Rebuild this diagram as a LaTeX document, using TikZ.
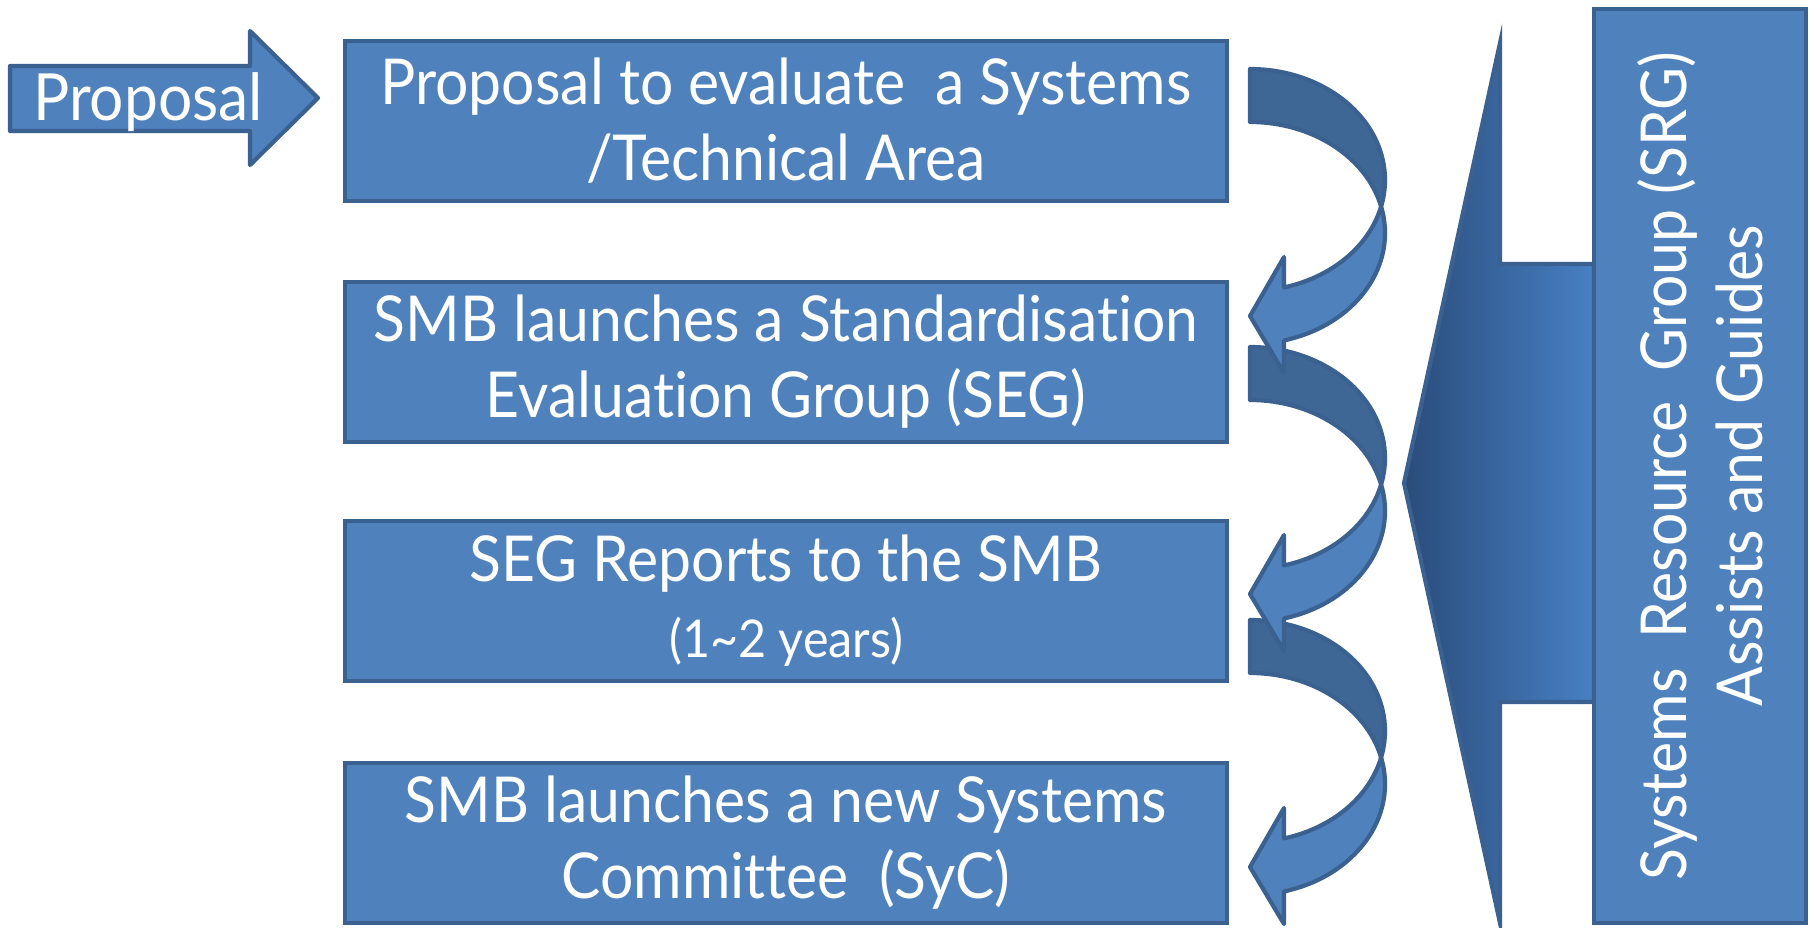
\documentclass[tikz,border=0pt]{standalone}
\usepackage{fontspec}
\setmainfont[FakeStretch=0.93, Ligatures=NoCommon]{Lato}
\definecolor{boxblue}{HTML}{4F81BD}
\definecolor{edgeblue}{HTML}{3A6190}
\definecolor{backblue}{HTML}{3E6796}
\definecolor{darkcall}{HTML}{2A4C7A}
\definecolor{lightcall}{HTML}{4780C4}

\begin{document}
\begin{tikzpicture}[x=0.01cm, y=-0.01cm,
	stepbox/.style={rectangle, draw=edgeblue, fill=boxblue, line width=1.2pt, minimum width=8.81cm, minimum height=1.6cm, inner sep=0pt, text=white, align=center, font=\fontsize{18}{21.6}\selectfont},
	curvefront/.style={draw=edgeblue, fill=boxblue, line width=1.2pt, line join=round},
	curveback/.style={draw=edgeblue, fill=backblue, line width=1.2pt, line join=round}]
	\useasboundingbox (0,0) rectangle (1810,927);

	\draw[curvefront] (10,66) -- (250,66) -- (250,31) -- (318,98) -- (250,165) -- (250,131) -- (10,131) -- cycle;
	\draw (148,120) node (prop) [anchor=base, text=white, font=\fontsize{18.5}{21.6}\selectfont] {Proposal};

	\draw (786,121) node (area) [stepbox] {Proposal to evaluate~ a Systems\\/Technical Area};
	\draw (786,362) node (seg) [stepbox] {SMB launches a Standardisation\\Evaluation Group (SEG)};
	\draw (786,601) node (report) [stepbox] {SEG Reports to the SMB\\{\fontsize{14.8}{16.5}\selectfont (1\textasciitilde2 years)}};
	\draw (786,843) node (syc) [stepbox] {SMB launches a new Systems\\Committee~ (SyC)};

	\draw[edgeblue, line width=1.2pt, left color=darkcall, right color=lightcall] (1500,43) -- (1500,264) -- (1594,264) -- (1594,702) -- (1500,702) -- (1500,923) -- (1404,483) -- cycle;
	\draw (1700,466) node (srg) [stepbox, rotate=90, minimum width=9.14cm, minimum height=2.12cm] {Systems~ Resource~ Group (SRG)\\Assists and Guides};

	\foreach \y in {620,347,69} {
		\begin{scope}[shift={(0,\y)}]
			\draw[curveback] (1250,0) arc[start angle=-90, end angle=13.81, x radius=135, y radius=111]
				arc[start angle=-13.81, end angle=-90, x radius=135, y radius=111] -- cycle;
			\draw[curvefront] (1381.1,137.5) arc[start angle=-13.81, end angle=75.41, x radius=135, y radius=111]
				-- (1284,304) -- (1250,247) -- (1284,188) -- (1284,218.4)
				arc[start angle=75.41, end angle=13.81, x radius=135, y radius=111] -- cycle;
		\end{scope}
	}
\end{tikzpicture}
\end{document}
